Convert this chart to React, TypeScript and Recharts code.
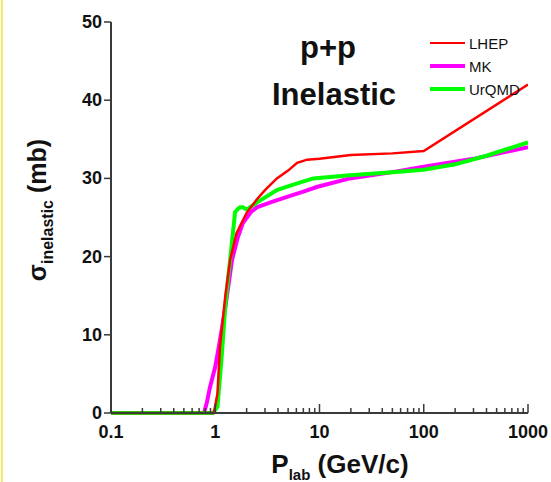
import { Label, Line, LineChart, XAxis, YAxis } from 'recharts';

// LHEP model (red)
const lhepP = [0.1, 0.5, 0.97, 1.05, 1.11, 1.25, 1.39, 1.6, 2.0, 2.5, 3.0, 3.9, 5.0, 6.1, 7.6, 10, 20, 50, 100, 1000];
const lhepSigma = [0, 0, 0, 2.5, 8.5, 15, 19.6, 23, 25.6, 27.3, 28.5, 30, 31, 32, 32.4, 32.5, 33, 33.2, 33.5, 42];

// MK model (magenta)
const mkP = [0.1, 0.78, 0.83, 0.89, 1.0, 1.1, 1.24, 1.45, 1.65, 1.84, 2.2, 2.5, 3.5, 4.8, 7, 9.4, 19.5, 50, 100, 300, 1000];
const mkSigma = [0, 0, 1.3, 3.3, 5.9, 9, 13.2, 19.6, 22.5, 24.3, 25.7, 26.3, 27, 27.6, 28.3, 28.9, 30, 30.8, 31.5, 32.5, 34.0];

// UrQMD model (green)
const urqmdP = [0.1, 0.95, 1.05, 1.15, 1.24, 1.33, 1.39, 1.55, 1.65, 1.73, 1.84, 2.0, 2.5, 3.9, 5.6, 8.7, 19.5, 50, 100, 200, 400, 1000];
const urqmdSigma = [0, 0, 0.8, 7, 13.2, 17.4, 19.6, 25.7, 26.1, 26.3, 26.3, 26.0, 26.9, 28.5, 29.2, 30.0, 30.4, 30.8, 31.1, 31.8, 32.9, 34.6];

const majorX = [0.1, 1, 10, 100, 1000];
const minorMult = [2, 3, 4, 5, 6, 7, 8, 9];
const yTicks = [0, 10, 20, 30, 40, 50];

const legendItems = [
  { name: 'LHEP', color: '#ff0000', width: 2.5 },
  { name: 'MK', color: '#ff00ff', width: 4 },
  { name: 'UrQMD', color: '#00ff00', width: 4 },
];

const xTicks = [
  ...majorX,
  ...majorX.slice(0, -1).flatMap((d) => minorMult.map((m) => d * m)),
].sort((a, b) => a - b);

const rows = (p: number[], s: number[]) => p.map((v, i) => ({ p: v, s: s[i] }));

const AXIS = '#3a3a3a';
const FONT = '"Liberation Sans", Arial, sans-serif';

const XTick = ({ x, y, payload }: any) => {
  const major = majorX.includes(payload.value);
  return (
    <g>
      <line x1={x} x2={x} y1={y} y2={y - (major ? 9 : 5)} stroke={AXIS} strokeWidth={1.5} />
      {major && (
        <text x={x} y={y + 25} textAnchor="middle" fontSize={18} fontWeight="bold" fill="#111" fontFamily={FONT}>
          {payload.value}
        </text>
      )}
    </g>
  );
};

const YTick = ({ x, y, payload }: any) => (
  <g>
    <line x1={x} x2={x - 7} y1={y} y2={y} stroke={AXIS} strokeWidth={1.5} />
    <text x={x - 9} y={y + 6} textAnchor="end" fontSize={18} fontWeight="bold" fill="#111" fontFamily={FONT}>
      {payload.value}
    </text>
  </g>
);

export default function App() {
  return (
    <div style={{ position: 'relative', width: 551, height: 482, background: '#fff', fontFamily: FONT }}>
      <style>{'body{margin:0}'}</style>
      <div style={{ position: 'absolute', left: 1, top: 0, width: 2, height: 482, background: '#f2ee60' }} />
      <LineChart width={551} height={482} margin={{ top: 22, right: 23, bottom: 19, left: 51 }}>
        <XAxis
          dataKey="p"
          type="number"
          scale="log"
          domain={[0.1, 1000]}
          allowDataOverflow
          ticks={xTicks}
          interval={0}
          tick={<XTick />}
          tickLine={false}
          tickSize={0}
          tickMargin={0}
          height={50}
          axisLine={{ stroke: AXIS, strokeWidth: 2 }}
        >
          <Label
            content={() => (
              <text x={340} y={473} textAnchor="middle" fontSize={26} fontWeight="bold" fill="#111" fontFamily={FONT}>
                P<tspan fontSize={15} dy={7}>lab</tspan>
                <tspan dy={-7}> (GeV/c)</tspan>
              </text>
            )}
          />
        </XAxis>
        <YAxis
          type="number"
          domain={[0, 50]}
          ticks={yTicks}
          interval={0}
          tick={<YTick />}
          tickLine={false}
          tickSize={0}
          tickMargin={0}
          width={60}
          axisLine={{ stroke: AXIS, strokeWidth: 2 }}
        >
          <Label
            content={() => (
              <text
                transform="translate(46, 210) rotate(-90)"
                textAnchor="middle"
                fontSize={25}
                fontWeight="bold"
                fill="#111"
                fontFamily={FONT}
              >
                σ<tspan fontSize={16} dy={7}>inelastic</tspan>
                <tspan dy={-7}> (mb)</tspan>
              </text>
            )}
          />
        </YAxis>
        <Line data={rows(mkP, mkSigma)} dataKey="s" stroke="#ff00ff" strokeWidth={4} dot={false} isAnimationActive={false} />
        <Line data={rows(urqmdP, urqmdSigma)} dataKey="s" stroke="#00ff00" strokeWidth={4} dot={false} isAnimationActive={false} />
        <Line data={rows(lhepP, lhepSigma)} dataKey="s" stroke="#ff0000" strokeWidth={2.5} dot={false} isAnimationActive={false} />
      </LineChart>
      <div style={{ position: 'absolute', left: 0, top: 0, width: 551, pointerEvents: 'none' }}>
        <div style={{ position: 'absolute', left: 300, top: 30, fontSize: 31, fontWeight: 'bold', color: '#111' }}>p+p</div>
        <div style={{ position: 'absolute', left: 272, top: 77, fontSize: 31, fontWeight: 'bold', color: '#111' }}>Inelastic</div>
        {legendItems.map((item, i) => (
          <div
            key={item.name}
            style={{ position: 'absolute', left: 430, top: 34 + i * 23, display: 'flex', alignItems: 'center', height: 18 }}
          >
            <span style={{ display: 'inline-block', width: 35, height: item.width, background: item.color }} />
            <span style={{ marginLeft: 4, fontSize: 15, color: '#111' }}>{item.name}</span>
          </div>
        ))}
      </div>
    </div>
  );
}
